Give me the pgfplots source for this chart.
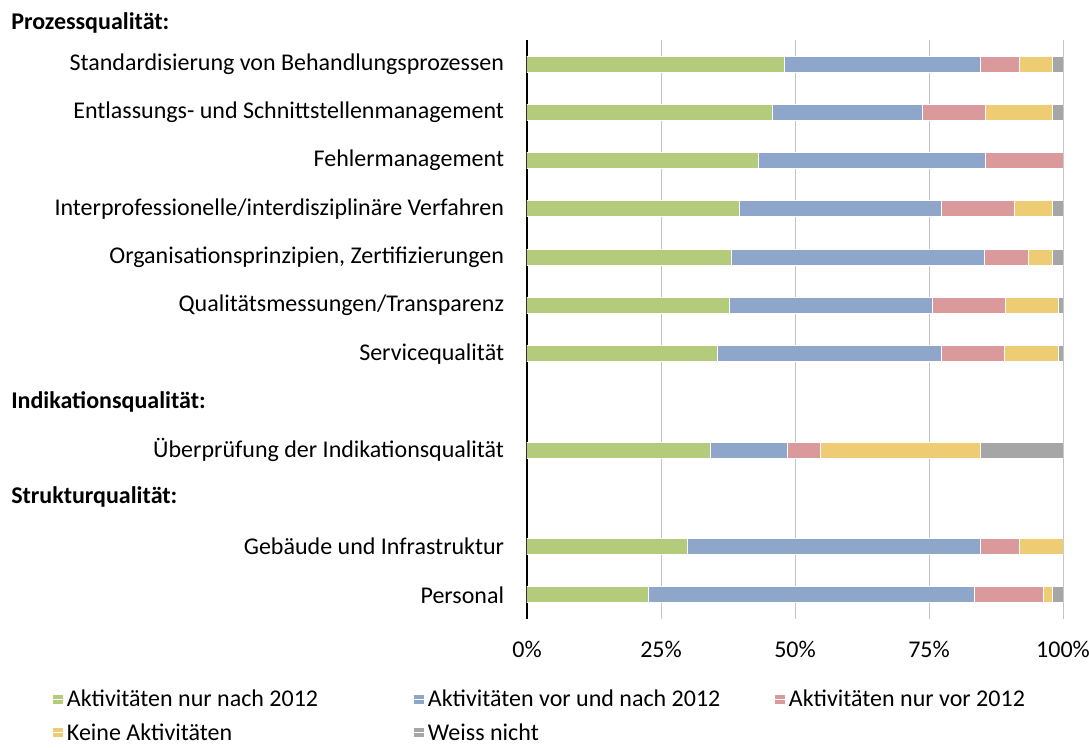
\documentclass[border=0pt]{standalone}
\usepackage{fontspec}
\setmainfont{Carlito}
\usepackage{pgfplots}
\pgfplotsset{compat=1.18}
\definecolor{cGreen}{HTML}{B3CB7A}
\definecolor{cBlue}{HTML}{8FA6CB}
\definecolor{cPink}{HTML}{DA9A9C}
\definecolor{cYellow}{HTML}{EDCC73}
\definecolor{cGray}{HTML}{A6A6A6}
\definecolor{cGrid}{HTML}{C4C4C4}
\newcommand\f{\fontsize{18}{21.5}\selectfont}
\begin{document}
\begin{tikzpicture}
\path[use as bounding box] (0,0) rectangle (816.75pt,560.25pt);
\begin{axis}[
  at={(395.25pt,96pt)}, anchor=south west,
  scale only axis, width=402pt, height=434.25pt,
  xbar stacked, bar width=12pt,
  enlargelimits=false,
  xmin=0, xmax=100, ymin=-0.5, ymax=11.5,
  xtick={0,25,50,75,100}, xticklabels={0\%,25\%,50\%,75\%,100\%},
  ytick={0,1,3,5,6,7,8,9,10,11},
  yticklabels={Personal, Gebäude und Infrastruktur, Überprüfung der Indikationsqualität, Servicequalität, Qualitätsmessungen/Transparenz, {Organisationsprinzipien, Zertifizierungen}, Interprofessionelle/interdisziplinäre Verfahren, Fehlermanagement, Entlassungs- und Schnittstellenmanagement, Standardisierung von Behandlungsprozessen},
  axis lines*=left, axis line style={-},
  x axis line style={draw=none}, y axis line style={black, line width=1pt},
  major tick length=0pt,
  xmajorgrids, grid style={cGrid, line width=0.75pt},
  tick label style={font=\f},
  yticklabel style={anchor=east, inner sep=0pt, xshift=-17pt},
  xticklabel style={anchor=center, inner sep=0pt, yshift=-22.5pt},
  /pgf/number format/assume math mode=true,
  legend columns=3, legend cell align=left,
  legend style={at={(axis description cs:-0.88433,-0.1100)}, anchor=north west, draw=none, fill=none, inner sep=0pt, outer sep=0pt, font=\f, nodes={anchor=west, inner sep=0pt, text width=260.25pt, align=flush left, minimum height=25pt}, row sep=0pt, column sep=0pt},
  legend image code/.code={\fill[#1, draw=none] (0pt,-3.6pt) rectangle (7pt,3.4pt); \path (0pt,0pt) -- (9.75pt,0pt);},
]
\addplot[fill=cGreen, draw=white, line width=0.75pt] coordinates {(22.7,0) (29.9,1) (34.2,3) (35.5,5) (37.8,6) (38.2,7) (39.6,8) (43.2,9) (45.8,10) (48.1,11)};
\addplot[fill=cBlue, draw=white, line width=0.75pt] coordinates {(60.8,0) (54.7,1) (14.4,3) (41.8,5) (37.9,6) (47.2,7) (37.8,8) (42.3,9) (28.0,10) (36.5,11)};
\addplot[fill=cPink, draw=white, line width=0.75pt] coordinates {(12.8,0) (7.2,1) (6.2,3) (11.8,5) (13.5,6) (8.1,7) (13.6,8) (14.5,9) (11.7,10) (7.2,11)};
\addplot[fill=cYellow, draw=white, line width=0.75pt] coordinates {(1.8,0) (8.2,1) (29.9,3) (10.0,5) (9.9,6) (4.6,7) (7.1,8) (0,9) (12.6,10) (6.3,11)};
\addplot[fill=cGray, draw=white, line width=0.75pt] coordinates {(1.9,0) (0,1) (15.3,3) (0.9,5) (0.9,6) (1.9,7) (1.9,8) (0,9) (1.9,10) (1.9,11)};
\legend{Aktivitäten nur nach 2012, Aktivitäten vor und nach 2012, Aktivitäten nur vor 2012, Keine Aktivitäten, Weiss nicht}
\end{axis}
\node[anchor=west, inner sep=0pt, font=\f\bfseries] at (8.25pt,543pt) {Prozessqualität:};
\node[anchor=west, inner sep=0pt, font=\f\bfseries] at (8.25pt,258.75pt) {Indikationsqualität:};
\node[anchor=west, inner sep=0pt, font=\f\bfseries] at (8.25pt,187.5pt) {Strukturqualität:};
\end{tikzpicture}
\end{document}
